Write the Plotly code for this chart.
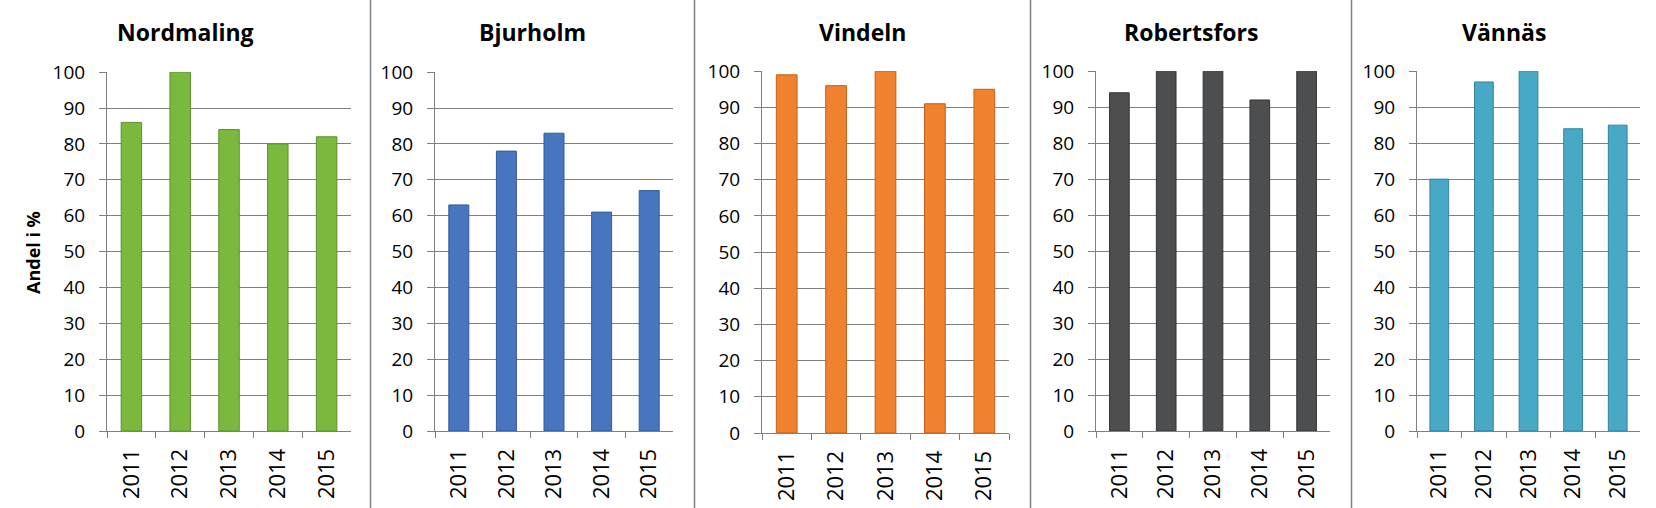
import plotly.graph_objects as go

W, H = 1656, 508

years = ["2011", "2012", "2013", "2014", "2015"]
municipalities = ["Nordmaling", "Bjurholm", "Vindeln", "Robertsfors", "Vännäs"]
nordmaling = [86, 100, 84, 80, 82]
bjurholm = [63, 78, 83, 61, 67]
vindeln = [99, 96, 100, 91, 95]
robertsfors = [94, 100, 100, 92, 100]
vannas = [70, 97, 100, 84, 85]
series = [nordmaling, bjurholm, vindeln, robertsfors, vannas]
colors = ["#7ab83e", "#4775c0", "#f0812f", "#4d4e50", "#47a9c6"]
edge_colors = ["#5f8f2c", "#355c99", "#c4611b", "#333436", "#34839c"]
y_ticks = list(range(0, 101, 10))
y_title = "Andel i %"

# plot-area pixel boxes (left, right, top, bottom)
boxes = [(107, 351, 72, 431), (435, 673, 72, 431), (762, 1009, 71, 433),
         (1096, 1330, 71, 431), (1417, 1640, 71, 431)]
panel_bounds = [(0, 370), (371, 694), (694, 1030), (1030, 1351), (1351, 1656)]
separators = [370.5, 694.5, 1030.5, 1351.5]

FONT = "'Open Sans', 'Liberation Sans', Arial, sans-serif"
GRID = "#7f7f7f"

fig = go.Figure()
layout = {}
for i, (name, vals) in enumerate(zip(municipalities, series)):
    n = "" if i == 0 else str(i + 1)
    fig.add_trace(go.Bar(
        x=years, y=vals, xaxis="x" + n, yaxis="y" + n,
        marker=dict(color=colors[i], line=dict(color=edge_colors[i], width=1)),
        showlegend=False, hoverinfo="x+y"))
    l, r, t, b = boxes[i]
    layout["xaxis" + n] = dict(
        domain=[l / W, r / W], anchor="y" + n, type="category", automargin=False,
        showline=True, linecolor=GRID, linewidth=1,
        ticks="outside", tickson="boundaries", ticklen=6, tickcolor=GRID,
        ticklabelstandoff=8,
        tickangle=-90, tickfont=dict(family=FONT, size=22, color="#000000"),
        showgrid=False, fixedrange=True)
    layout["yaxis" + n] = dict(
        domain=[1 - b / H, 1 - t / H], anchor="x" + n, automargin=False,
        range=[0, 100.05], tickvals=y_ticks, ticktext=[str(v) for v in y_ticks],
        showline=True, linecolor=GRID, linewidth=1,
        ticks="outside", ticklen=7, tickcolor=GRID, ticklabelstandoff=10,
        showgrid=True, gridcolor=GRID, gridwidth=1, zeroline=False,
        tickfont=dict(family=FONT, size=19, color="#000000"), fixedrange=True)

annotations = []
for i, name in enumerate(municipalities):
    pl, pr = panel_bounds[i]
    annotations.append(dict(
        text="<b>%s</b>" % name, x=(pl + pr) / 2 / W, y=1 - 32 / H,
        xref="paper", yref="paper", xanchor="center", yanchor="middle",
        showarrow=False, font=dict(family=FONT, size=23, color="#000000")))
annotations.append(dict(
    text="<b>%s</b>" % y_title, x=33 / W, y=1 - 253 / H, xref="paper", yref="paper",
    xanchor="center", yanchor="middle", textangle=-90, showarrow=False,
    font=dict(family=FONT, size=18, color="#000000")))

shapes = [dict(type="line", xref="paper", yref="paper", x0=s / W, x1=s / W, y0=0, y1=1,
               line=dict(color="#808080", width=1.5)) for s in separators]

fig.update_layout(
    width=W, height=H, margin=dict(l=0, r=0, t=0, b=0, autoexpand=False),
    paper_bgcolor="white", plot_bgcolor="white",
    bargap=0.58, annotations=annotations, shapes=shapes, **layout)

fig.write_html("out.html", config={"displayModeBar": False},
               post_script="document.body.style.margin='0';document.body.style.overflow='hidden';")
